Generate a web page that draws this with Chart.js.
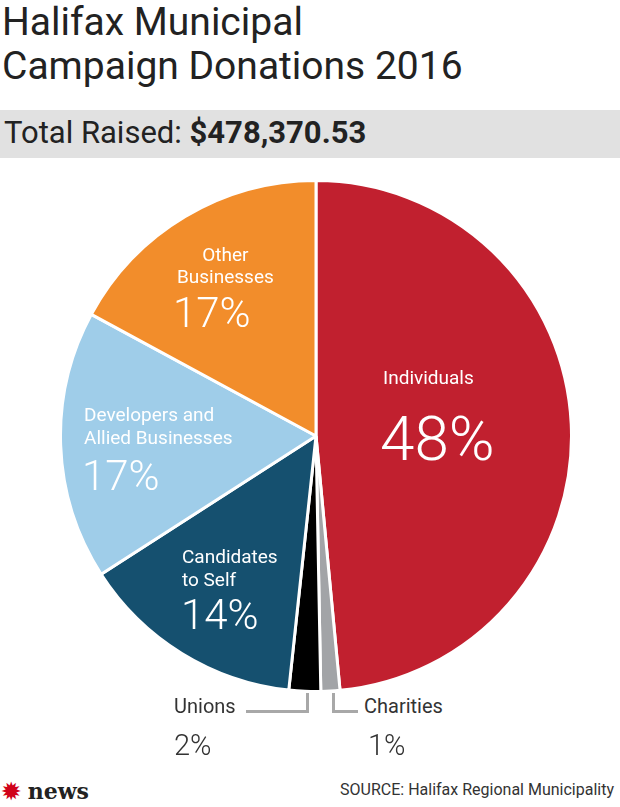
<!DOCTYPE html>
<html>
<head>
<meta charset="utf-8">
<script src="https://cdn.jsdelivr.net/npm/chart.js@4"></script>
<style>
  body { margin:0; width:620px; height:807px; background:#fff; font-family:Roboto, "DejaVu Sans", sans-serif; position:relative; overflow:hidden; color:#222; }
  .t { position:absolute; white-space:nowrap; }
  .w { color:#fff; }
  #title { left:2px; top:0px; font-size:39px; line-height:44px; color:#222; }
  #band { position:absolute; left:0; top:110px; width:620px; height:48px; background:#e1e1e1; }
  #total { left:4px; top:114px; font-size:31px; }
  #box { position:absolute; left:59px; top:179px; width:514px; height:514px; }
  .ln { position:absolute; background:#a8a8a8; }
</style>
</head>
<body>
<div class="t" id="title">Halifax Municipal<br>Campaign Donations 2016</div>
<div id="band"></div>
<div class="t" id="total">Total Raised: <b>$478,370.53</b></div>
<div id="box"><canvas id="pie"></canvas></div>

<div class="t w" style="left:383px;top:366px;font-size:19px;">Individuals</div>
<div class="t w" style="left:380px;top:402px;font-size:62px;font-weight:300;">48%</div>
<div class="t w" style="left:177px;top:244px;font-size:19px;line-height:22px;text-align:center;">Other<br>Businesses</div>
<div class="t w" style="left:173px;top:288px;font-size:42px;font-weight:300;">17%</div>
<div class="t w" style="left:84px;top:403px;font-size:19px;line-height:23px;">Developers and<br>Allied Businesses</div>
<div class="t w" style="left:82px;top:451px;font-size:42px;font-weight:300;">17%</div>
<div class="t w" style="left:182px;top:545px;font-size:19px;line-height:23px;">Candidates<br>to Self</div>
<div class="t w" style="left:181px;top:590px;font-size:42px;font-weight:300;">14%</div>

<div class="t" style="left:174px;top:694px;font-size:20px;color:#333;">Unions</div>
<div class="t" style="left:174px;top:728px;font-size:29px;font-weight:300;color:#333;">2%</div>
<div class="t" style="left:364px;top:694px;font-size:20px;color:#333;">Charities</div>
<div class="t" style="left:368px;top:728px;font-size:29px;font-weight:300;color:#333;">1%</div>
<div class="ln" style="left:246px;top:710px;width:63px;height:3px;"></div>
<div class="ln" style="left:306px;top:693px;width:3px;height:20px;"></div>
<div class="ln" style="left:332px;top:693px;width:3px;height:20px;"></div>
<div class="ln" style="left:332px;top:710px;width:26px;height:3px;"></div>

<div class="t" style="left:2px;top:778px;font-size:22px;font-weight:bold;font-family:'DejaVu Serif',serif;"><span style="color:#d0021b;">&#10041;</span> news</div>
<div class="t" style="right:6px;top:780px;font-size:16px;color:#333;">SOURCE: Halifax Regional Municipality</div>

<script>
const categories = ["Individuals", "Charities", "Unions", "Candidates to Self", "Developers and Allied Businesses", "Other Businesses"];
const shares = [48.5, 1.2, 2.0, 14.2, 17.0, 17.1];
const sliceColors = ["#c1202f", "#a2a4a7", "#000000", "#15506f", "#9fcde9", "#f28d2b"];

new Chart(document.getElementById("pie"), {
    type: "pie",
    data: {
        labels: categories,
        datasets: [{
            data: shares,
            backgroundColor: sliceColors,
            borderColor: "#ffffff",
            borderWidth: 3,
        }],
    },
    options: {
        responsive: true,
        maintainAspectRatio: false,
        animation: false,
        layout: { padding: 0 },
        plugins: {
            legend: { display: false },
            tooltip: { enabled: false },
        },
    },
});
</script>
</body>
</html>
